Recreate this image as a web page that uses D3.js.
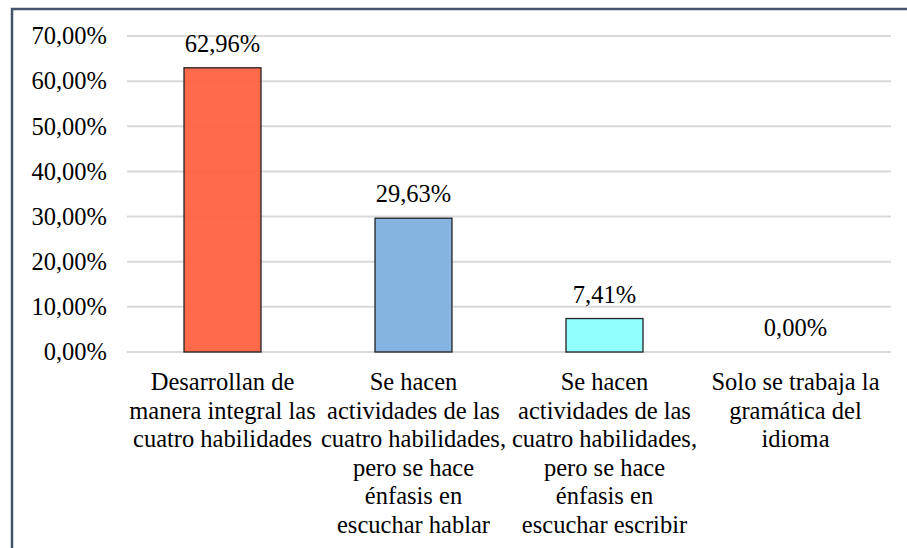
<!DOCTYPE html>
<html>
<head>
<meta charset="utf-8">
<script src="https://cdn.jsdelivr.net/npm/d3@7"></script>
<style>
  svg text, svg tspan { font-family: "Liberation Serif", serif !important; }
</style>
</head>
<body style="margin:0;background:#fff">
<svg id="chart" width="907" height="548" style="display:block"></svg>
<script>
const categories = [
  ["Desarrollan de", "manera integral las", "cuatro habilidades"],
  ["Se hacen", "actividades de las", "cuatro habilidades,", "pero se hace", "énfasis en", "escuchar hablar"],
  ["Se hacen", "actividades de las", "cuatro habilidades,", "pero se hace", "énfasis en", "escuchar escribir"],
  ["Solo se trabaja la", "gramática del", "idioma"]
];
const values = [62.96, 29.63, 7.41, 0.00];
const valueLabels = ["62,96%", "29,63%", "7,41%", "0,00%"];
const yTicks = [0, 10, 20, 30, 40, 50, 60, 70];
const yTickLabels = ["0,00%", "10,00%", "20,00%", "30,00%", "40,00%", "50,00%", "60,00%", "70,00%"];
const colors = ["#FF6340", "#7FB0DE", "#8CFFFF", "#A0A0A0"];

const FONT = "Liberation Serif";
const FS = 24.5;

function serif(sel) {
  sel.attr("font-family", FONT)
     .style("font-family", "'Liberation Serif', serif", "important");
}

const svg = d3.select("#chart");

// outer frame
svg.append("rect")
  .attr("x", 12).attr("y", 9)
  .attr("width", 920).attr("height", 560)
  .attr("fill", "none")
  .attr("stroke", "#44546A")
  .attr("stroke-width", 2.5);

const plotLeft = 127, plotRight = 891, plotTop = 36, plotBottom = 352;

const x = d3.scaleBand()
  .domain(d3.range(categories.length))
  .range([plotLeft, plotRight])
  .paddingInner(0.597)
  .paddingOuter(0.2985);

const y = d3.scaleLinear().domain([0, 70]).range([plotBottom, plotTop]);

// gridlines
svg.append("g").selectAll("line")
  .data(yTicks)
  .join("line")
  .attr("x1", plotLeft).attr("x2", plotRight)
  .attr("y1", d => y(d)).attr("y2", d => y(d))
  .attr("stroke", "#D9D9D9")
  .attr("stroke-width", 2);

// y axis labels
const yAxis = d3.axisLeft(y)
  .tickValues(yTicks)
  .tickFormat((d, i) => yTickLabels[i])
  .tickSize(0)
  .tickPadding(0);
const yg = svg.append("g")
  .attr("transform", "translate(107,0)")
  .call(yAxis)
  .attr("font-size", FS)
  .call(serif);
yg.select(".domain").remove();
yg.selectAll("text")
  .attr("font-size", FS)
  .attr("fill", "#000")
  .call(serif);

// bars
svg.append("g").selectAll("rect")
  .data(values)
  .join("rect")
  .attr("x", (d, i) => x(i))
  .attr("y", d => y(d))
  .attr("width", x.bandwidth())
  .attr("height", d => y(0) - y(d))
  .attr("fill", (d, i) => colors[i])
  .attr("fill-opacity", 0.95)
  .attr("stroke", d => d > 0 ? "#222" : "none")
  .attr("stroke-width", 1.3);

// value labels
svg.append("g").selectAll("text")
  .data(values)
  .join("text")
  .attr("x", (d, i) => x(i) + x.bandwidth() / 2)
  .attr("y", d => y(d) - 16)
  .attr("text-anchor", "middle")
  .attr("font-size", FS)
  .attr("fill", "#000")
  .call(serif)
  .text((d, i) => valueLabels[i]);

// category labels
const catG = svg.append("g");
categories.forEach((lines, i) => {
  const t = catG.append("text")
    .attr("x", x(i) + x.bandwidth() / 2)
    .attr("y", 390)
    .attr("text-anchor", "middle")
    .attr("font-size", FS)
    .attr("fill", "#000")
    .call(serif);
  lines.forEach((ln, j) => {
    t.append("tspan")
      .attr("x", x(i) + x.bandwidth() / 2)
      .attr("dy", j === 0 ? 0 : 28.6)
      .call(serif)
      .text(ln);
  });
});
</script>
</body>
</html>
